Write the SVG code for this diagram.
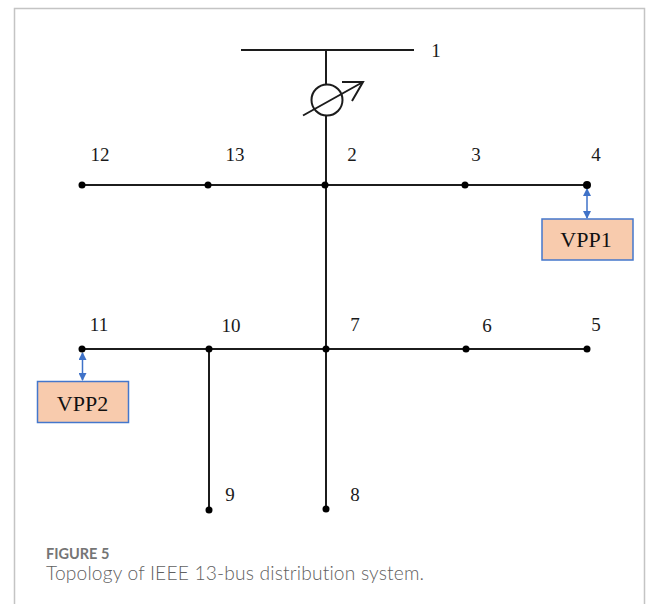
<svg xmlns="http://www.w3.org/2000/svg" width="656" height="604" viewBox="0 0 656 604">
<defs>
<marker id="bh" viewBox="0 0 8 8" refX="7" refY="4" markerWidth="8" markerHeight="8" markerUnits="userSpaceOnUse" orient="auto-start-reverse"><path d="M0 0L8 4L0 8Z" fill="#3f72c8"/></marker>
</defs>
<style>
.l{stroke:#1c1c1c;stroke-width:2;fill:none}
.d{fill:#000}
.t{font-family:"Liberation Serif",serif;font-size:19px;fill:#1a1a1a;text-anchor:middle}
.v{font-family:"Liberation Serif",serif;font-size:22px;fill:#111;text-anchor:middle}
.b{fill:#f8cbad;stroke:#4477cc;stroke-width:1.5}
.a{stroke:#3f72c8;stroke-width:1.5;fill:none;marker-start:url(#bh);marker-end:url(#bh)}
</style>
<rect width="656" height="604" fill="#fff"/>
<path d="M14.500 604V8.500H644.500V604" fill="none" stroke="#c4c4c4" stroke-width="1.500"/>
<g id="connectors">
<path class="l" d="M241 50H414"/>
<path class="l" d="M326 50V85M326 115V349M326 349V508"/>
<path class="l" d="M82 185H587"/>
<path class="l" d="M82 349H587"/>
<path class="l" d="M209 349V510"/>
<path class="a" d="M587 189V218"/>
<path class="a" d="M82.500 353V380"/>
</g>
<g id="transformer">
<circle class="l" cx="327" cy="100" r="15.500"/>
<path class="l" d="M303 115.500L363 82M342 82H363L352 101"/>
</g>
<g id="bus1"><text class="t" x="436" y="57">1</text></g>
<g id="bus2"><circle class="d" cx="325" cy="185" r="3.500"/><text class="t" x="352" y="161">2</text></g>
<g id="bus3"><circle class="d" cx="465" cy="185" r="3.500"/><text class="t" x="476" y="161">3</text></g>
<g id="bus4"><circle class="d" cx="587" cy="185" r="4"/><text class="t" x="596" y="161">4</text></g>
<g id="bus5"><circle class="d" cx="587" cy="349" r="3.500"/><text class="t" x="596" y="331">5</text></g>
<g id="bus6"><circle class="d" cx="466" cy="349" r="3.500"/><text class="t" x="487" y="332">6</text></g>
<g id="bus7"><circle class="d" cx="326" cy="349" r="3.500"/><text class="t" x="355" y="331">7</text></g>
<g id="bus8"><circle class="d" cx="326" cy="509" r="3.500"/><text class="t" x="355" y="501">8</text></g>
<g id="bus9"><circle class="d" cx="209" cy="510" r="3.500"/><text class="t" x="230" y="501">9</text></g>
<g id="bus10"><circle class="d" cx="209" cy="349" r="3.500"/><text class="t" x="231" y="332">10</text></g>
<g id="bus11"><circle class="d" cx="82" cy="349" r="3.500"/><text class="t" x="99" y="331">11</text></g>
<g id="bus12"><circle class="d" cx="82" cy="185" r="3.500"/><text class="t" x="100" y="161">12</text></g>
<g id="bus13"><circle class="d" cx="208" cy="185" r="3.500"/><text class="t" x="235" y="161">13</text></g>
<g id="vpp1"><rect class="b" x="542" y="219" width="91" height="41"/><text class="v" x="586" y="247">VPP1</text></g>
<g id="vpp2"><rect class="b" x="37.500" y="381.500" width="91" height="41"/><text class="v" x="82.500" y="411">VPP2</text></g>
<g id="caption">
<text x="46" y="558.500" font-family="Lato,sans-serif" font-size="14.500px" font-weight="700" fill="#757575">FIGURE 5</text>
<text x="46" y="579.500" font-family="Lato,sans-serif" font-size="19.200px" font-weight="300" letter-spacing="0.18" fill="#616161">Topology of IEEE 13-bus distribution system.</text>
</g>
</svg>
